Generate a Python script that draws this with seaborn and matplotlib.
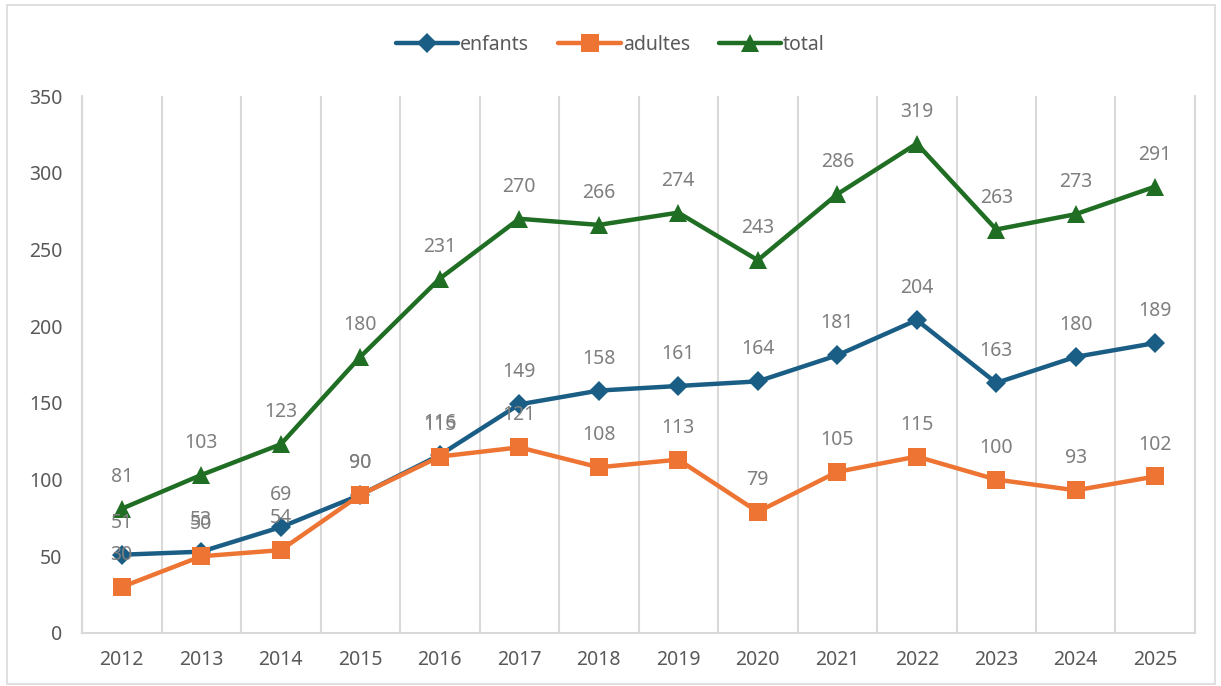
import pandas as pd
import matplotlib.pyplot as plt
import seaborn as sns
import numpy as np
from matplotlib.patches import Rectangle

years = [str(y) for y in range(2012, 2026)]
enfants = [51, 53, 69, 90, 116, 149, 158, 161, 164, 181, 204, 163, 180, 189]
adultes = [30, 50, 54, 90, 115, 121, 108, 113, 79, 105, 115, 100, 93, 102]
total = [81, 103, 123, 180, 231, 270, 266, 274, 243, 286, 319, 263, 273, 291]

series = ['enfants', 'adultes', 'total']
colors = {'enfants': '#1b5e85', 'adultes': '#ed7433', 'total': '#1f6e23'}
markers = {'enfants': 'D', 'adultes': 's', 'total': '^'}
msize = {'enfants': 10, 'adultes': 13, 'total': 13}

df = pd.DataFrame({'year': years * 3,
                   'value': enfants + adultes + total,
                   'serie': ['enfants'] * 14 + ['adultes'] * 14 + ['total'] * 14})
df['pos'] = df.groupby('serie').cumcount()

sns.set_style('white')
plt.rcParams['font.family'] = ['Noto Sans', 'DejaVu Sans']

fig = plt.figure(figsize=(12.21, 6.86), dpi=100)
ax = fig.add_axes([0.0672, 0.0773, 0.9115, 0.7827])

for s in series:
    d = df[df['serie'] == s]
    sns.lineplot(data=d, x='pos', y='value', ax=ax, color=colors[s], lw=3.2,
                 marker=markers[s], markersize=msize[s], markeredgewidth=0,
                 label=s)
    for x, v in zip(d['pos'], d['value']):
        ax.annotate(str(v), (x, v), xytext=(0, 23), textcoords='offset points',
                    ha='center', va='center', fontsize=14, color='#7f7f7f')

ax.set_xlim(-0.5, 13.5)
ax.set_ylim(0, 350)
ax.set_yticks(range(0, 351, 50))
ax.set_xticks(range(14))
ax.set_xticklabels(years)
ax.set_xticks(np.arange(-0.5, 14, 1), minor=True)
ax.grid(False)
ax.grid(which='minor', axis='x', color='#d9d9d9', lw=1.5)
ax.tick_params(axis='both', which='both', length=0, labelsize=14, colors='#595959')
ax.tick_params(axis='x', pad=12)
ax.tick_params(axis='y', pad=14)
ax.set_xlabel('')
ax.set_ylabel('')
for side in ['left', 'right', 'bottom']:
    ax.spines[side].set_color('#d9d9d9')
    ax.spines[side].set_linewidth(1.5)
ax.spines['top'].set_visible(False)

ax.legend(loc='center', bbox_to_anchor=(0.5, 0.935), bbox_transform=fig.transFigure,
          ncol=3, frameon=False, fontsize=14, handlelength=3.2, handletextpad=0.1,
          columnspacing=1.5, labelcolor='#595959')

fig.patches.append(Rectangle((0.006, 0.003), 0.989, 0.99, transform=fig.transFigure,
                             fill=False, edgecolor='#d9d9d9', lw=1.2))

fig.savefig('out.png', dpi=100)
